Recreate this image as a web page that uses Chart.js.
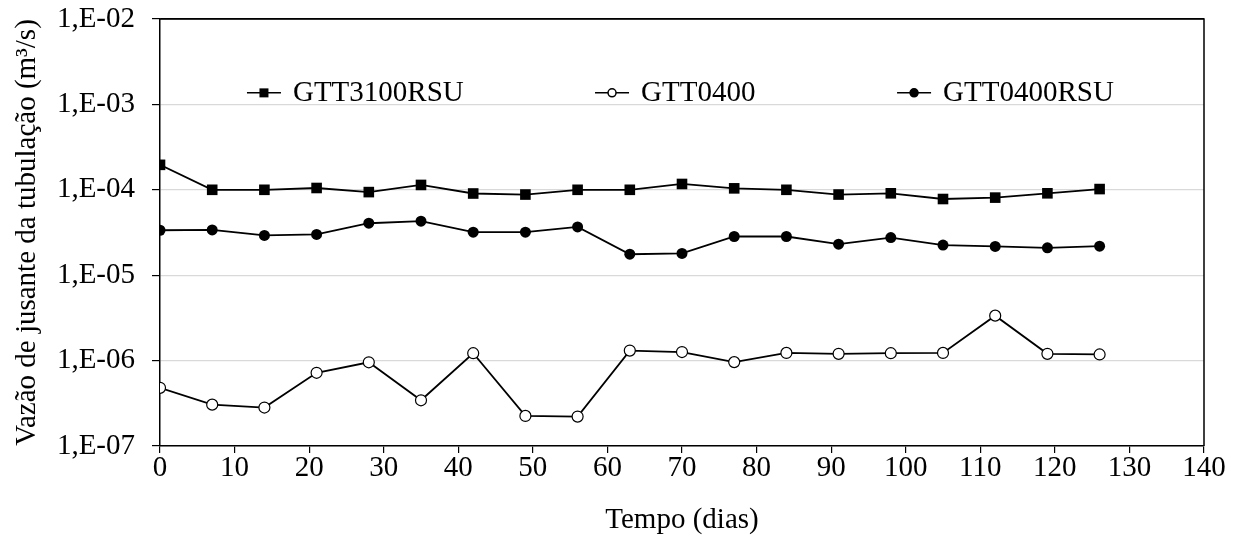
<!DOCTYPE html>
<html>
<head>
<meta charset="utf-8">
<script src="https://cdn.jsdelivr.net/npm/chart.js@4"></script>
<style>
  html, body { margin: 0; padding: 0; background: #fff; }
  #wrap { width: 1236px; height: 536px; }
</style>
</head>
<body>
<div id="wrap"><canvas id="myChart"></canvas></div>
<script>
var days = [0, 7, 14, 21, 28, 35, 42, 49, 56, 63, 70, 77, 84, 91, 98, 105, 112, 119, 126];

var gtt3100rsu = [1.96e-4, 1.0e-4, 1.0e-4, 1.05e-4, 0.94e-4, 1.14e-4, 0.905e-4, 0.88e-4, 1.0e-4, 1.0e-4,
                  1.17e-4, 1.04e-4, 1.0e-4, 0.88e-4, 0.91e-4, 0.78e-4, 0.81e-4, 0.91e-4, 1.02e-4];
var gtt0400 = [4.8e-7, 3.05e-7, 2.82e-7, 7.2e-7, 9.55e-7, 3.43e-7, 1.22e-6, 2.25e-7, 2.21e-7, 1.31e-6,
               1.26e-6, 9.6e-7, 1.23e-6, 1.2e-6, 1.22e-6, 1.23e-6, 3.36e-6, 1.2e-6, 1.18e-6];
var gtt0400rsu = [3.36e-5, 3.39e-5, 2.92e-5, 3.0e-5, 4.06e-5, 4.29e-5, 3.19e-5, 3.19e-5, 3.68e-5, 1.76e-5,
                  1.8e-5, 2.84e-5, 2.84e-5, 2.31e-5, 2.76e-5, 2.25e-5, 2.17e-5, 2.09e-5, 2.19e-5];

var seriesNames = ['GTT3100RSU', 'GTT0400', 'GTT0400RSU'];
var yDecades = [1e-7, 1e-6, 1e-5, 1e-4, 1e-3, 1e-2];
var xTicks = [0, 10, 20, 30, 40, 50, 60, 70, 80, 90, 100, 110, 120, 130, 140];

var FONT = 'Liberation Serif, Times New Roman, serif';
var FS = 29;

function pts(vals) {
    return days.map(function (d, i) { return { x: d, y: vals[i] }; });
}

// frame + legend inside the plot, like the spreadsheet chart
var framePlugin = {
    id: 'frame',
    afterDatasetsDraw: function (chart) {
        var a = chart.chartArea, c = chart.ctx;
        c.save();
        c.strokeStyle = '#000';
        c.lineWidth = 1.5;
        c.beginPath();
        c.moveTo(a.left, a.top);
        c.lineTo(a.right, a.top);
        c.lineTo(a.right, a.bottom);
        c.stroke();

        var legX = [0.0833, 0.4167, 0.706];
        var ly = a.top + (a.bottom - a.top) * 0.173;
        c.font = FS + 'px ' + FONT;
        c.textBaseline = 'middle';
        c.fillStyle = '#000';
        chart.data.datasets.forEach(function (ds, i) {
            var x0 = a.left + (a.right - a.left) * legX[i];
            c.strokeStyle = '#000';
            c.lineWidth = 1.5;
            c.beginPath();
            c.moveTo(x0, ly);
            c.lineTo(x0 + 34, ly);
            c.stroke();
            var m = x0 + 17;
            c.beginPath();
            if (ds.pointStyle === 'rect') {
                c.rect(m - 4.5, ly - 4.5, 9, 9);
                c.fill();
            } else {
                c.arc(m, ly, 4, 0, Math.PI * 2);
                c.fillStyle = ds.pointBackgroundColor;
                c.fill();
                c.stroke();
                c.fillStyle = '#000';
            }
            c.fillText(ds.label, x0 + 46, ly + 1);
        });
        c.restore();
    }
};

var ctx = document.getElementById('myChart');

var myChart = new Chart(ctx, {
    type: 'line',
    data: {
        datasets: [{
            label: seriesNames[0],
            data: pts(gtt3100rsu),
            borderColor: '#000',
            borderWidth: 1.8,
            pointStyle: 'rect',
            pointRadius: 7.5,
            pointBackgroundColor: '#000',
            pointBorderColor: '#000',
            pointBorderWidth: 0,
            tension: 0
        }, {
            label: seriesNames[1],
            data: pts(gtt0400),
            borderColor: '#000',
            borderWidth: 1.8,
            pointStyle: 'circle',
            pointRadius: 5.5,
            pointBackgroundColor: '#fff',
            pointBorderColor: '#000',
            pointBorderWidth: 1.2,
            tension: 0
        }, {
            label: seriesNames[2],
            data: pts(gtt0400rsu),
            borderColor: '#000',
            borderWidth: 1.8,
            pointStyle: 'circle',
            pointRadius: 5.5,
            pointBackgroundColor: '#000',
            pointBorderColor: '#000',
            pointBorderWidth: 0,
            tension: 0
        }]
    },
    options: {
        responsive: true,
        maintainAspectRatio: false,
        animation: false,
        events: [],
        layout: { padding: { top: 19, right: 32, left: 0, bottom: 0 } },
        plugins: {
            legend: { display: false },
            tooltip: { enabled: false }
        },
        scales: {
            x: {
                type: 'linear',
                min: 0,
                max: 140,
                afterBuildTicks: function (s) { s.ticks = xTicks.map(function (v) { return { value: v }; }); },
                afterFit: function (s) { s.height = 90; },
                grid: { drawOnChartArea: false, color: '#000', tickLength: 7, lineWidth: 1.2 },
                border: { color: '#000', width: 1.5 },
                ticks: { color: '#000', font: { family: FONT, size: FS }, padding: -2, maxRotation: 0 },
                title: { display: true, text: 'Tempo (dias)', color: '#000', font: { family: FONT, size: FS }, padding: { top: 0, bottom: -2 } }
            },
            y: {
                type: 'logarithmic',
                min: 1e-7,
                max: 1e-2,
                afterBuildTicks: function (s) { s.ticks = yDecades.map(function (v) { return { value: v }; }); },
                afterFit: function (s) { s.width = 160; s.paddingTop = 0; s.paddingBottom = 0; },
                grid: {
                    color: function (c) { return c.tick && c.tick.value === 1e-2 ? '#000' : '#d9d9d9'; },
                    tickColor: '#000',
                    tickLength: 8,
                    lineWidth: 1.2
                },
                border: { color: '#000', width: 1.5 },
                ticks: {
                    color: '#000',
                    font: { family: FONT, size: FS },
                    padding: 17,
                    callback: function (v) {
                        var e = Math.round(-Math.log10(v));
                        return '1,E-' + (e < 10 ? '0' + e : e);
                    }
                },
                title: { display: true, text: 'Vazão de jusante da tubulação (m³/s)', color: '#000', font: { family: FONT, size: FS }, padding: { top: 10, bottom: 0 } }
            }
        }
    },
    plugins: [framePlugin]
});
</script>
</body>
</html>
